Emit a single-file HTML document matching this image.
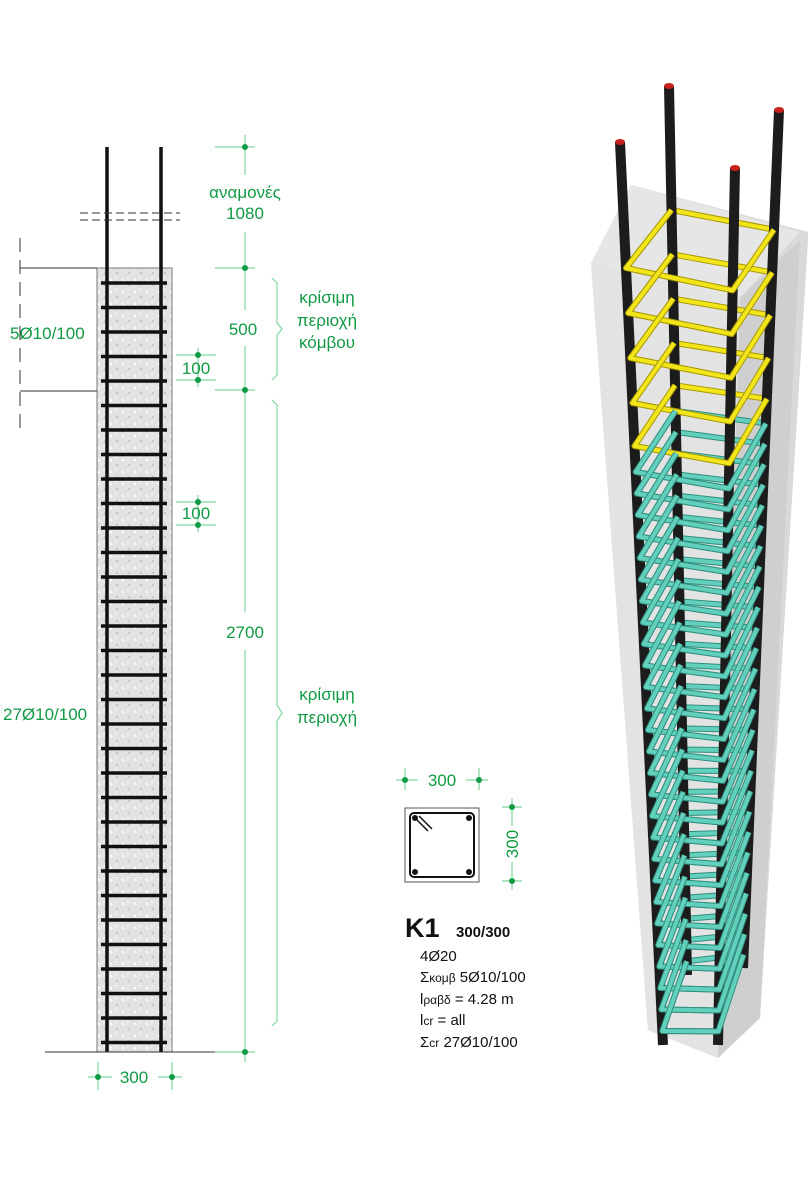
<!DOCTYPE html>
<html><head><meta charset="utf-8"><style>
html,body{margin:0;padding:0;background:#fff}
svg{display:block}
text{font-family:"Liberation Sans",sans-serif}
.g{fill:#119a44;font-size:17px}
.k{fill:#111;font-size:15px}
</style></head><body>
<svg id="s" width="808" height="1200" viewBox="0 0 808 1200" xmlns="http://www.w3.org/2000/svg">
<defs>
<pattern id="conc" width="12" height="12" patternUnits="userSpaceOnUse">
<rect width="12" height="12" fill="#e2e2e2"/>
<circle cx="3" cy="4" r="1.4" fill="#fafafa"/><circle cx="9" cy="9" r="1.1" fill="#c4c4c4"/><circle cx="8" cy="2" r="0.9" fill="#fff"/>
</pattern>
</defs>
<rect x="97" y="268" width="75" height="784" fill="url(#conc)" stroke="#777" stroke-width="1"/>
<g stroke="#111" stroke-width="3.5"><line x1="107" y1="147" x2="107" y2="1052"/><line x1="161" y1="147" x2="161" y2="1052"/></g>
<g stroke="#fff" stroke-width="10"><line x1="80" y1="216" x2="180" y2="216"/></g>
<g stroke="#111" stroke-width="3.5"><line x1="107" y1="210" x2="107" y2="222"/><line x1="161" y1="210" x2="161" y2="222"/></g>
<g stroke="#333" stroke-width="1" stroke-dasharray="8,4"><line x1="80" y1="213" x2="180" y2="213"/><line x1="80" y1="220" x2="180" y2="220"/></g>
<g id="stir" stroke="#111" stroke-width="3.5"></g>
<line x1="45" y1="1052" x2="220" y2="1052" stroke="#333" stroke-width="1"/>
<line x1="20" y1="238" x2="20" y2="435" stroke="#333" stroke-width="1" stroke-dasharray="14,8"/>
<g stroke="#333" stroke-width="1"><line x1="20" y1="268" x2="97" y2="268"/><line x1="20" y1="391" x2="97" y2="391"/></g>
<text class="g" x="10" y="339">5Ø10/100</text>
<text class="g" x="3" y="720">27Ø10/100</text>
<g stroke="#7fd6a0" stroke-width="1.2">
<line x1="245" y1="135" x2="245" y2="175"/><line x1="245" y1="232" x2="245" y2="310"/><line x1="245" y1="346" x2="245" y2="612"/><line x1="245" y1="650" x2="245" y2="1062"/>
<line x1="215" y1="147" x2="255" y2="147"/><line x1="215" y1="268" x2="255" y2="268"/><line x1="215" y1="390" x2="255" y2="390"/><line x1="215" y1="1052" x2="255" y2="1052"/>
<line x1="176" y1="355" x2="216" y2="355"/><line x1="176" y1="380" x2="216" y2="380"/><line x1="198" y1="348" x2="198" y2="387"/>
<line x1="176" y1="502" x2="216" y2="502"/><line x1="176" y1="525" x2="216" y2="525"/><line x1="198" y1="495" x2="198" y2="532"/>
<line x1="88" y1="1077" x2="112" y2="1077"/><line x1="158" y1="1077" x2="182" y2="1077"/><line x1="98" y1="1062" x2="98" y2="1090"/><line x1="172" y1="1062" x2="172" y2="1090"/>
<path d="M272 278 l5 5 v40 l5 6 l-5 6 v40 l-5 5 M272 400 l5 5 v300 l5 8 l-5 8 v300 l-5 5" fill="none"/>
<line x1="396" y1="780" x2="418" y2="780"/><line x1="466" y1="780" x2="488" y2="780"/><line x1="405" y1="768" x2="405" y2="790"/><line x1="479" y1="768" x2="479" y2="790"/>
<line x1="512" y1="798" x2="512" y2="826"/><line x1="512" y1="862" x2="512" y2="890"/><line x1="502" y1="807" x2="522" y2="807"/><line x1="502" y1="881" x2="522" y2="881"/>
</g>
<g fill="#119a44"><circle cx="245" cy="147" r="3"/><circle cx="245" cy="268" r="3"/><circle cx="245" cy="390" r="3"/><circle cx="245" cy="1052" r="3"/>
<circle cx="198" cy="355" r="3"/><circle cx="198" cy="380" r="3"/><circle cx="198" cy="502" r="3"/><circle cx="198" cy="525" r="3"/>
<circle cx="98" cy="1077" r="3"/><circle cx="172" cy="1077" r="3"/><circle cx="405" cy="780" r="3"/><circle cx="479" cy="780" r="3"/><circle cx="512" cy="807" r="3"/><circle cx="512" cy="881" r="3"/></g>
<text class="g" x="245" y="198" text-anchor="middle">αναμονές</text>
<text class="g" x="245" y="219" text-anchor="middle">1080</text>
<text class="g" x="243" y="335" text-anchor="middle">500</text>
<text class="g" x="245" y="638" text-anchor="middle">2700</text>
<text class="g" x="196" y="374" text-anchor="middle">100</text>
<text class="g" x="196" y="519" text-anchor="middle">100</text>
<text class="g" x="134" y="1083" text-anchor="middle">300</text>
<text class="g" x="327" y="303" text-anchor="middle">κρίσιμη</text>
<text class="g" x="327" y="326" text-anchor="middle">περιοχή</text>
<text class="g" x="327" y="348" text-anchor="middle">κόμβου</text>
<text class="g" x="327" y="700" text-anchor="middle">κρίσιμη</text>
<text class="g" x="327" y="723" text-anchor="middle">περιοχή</text>
<text class="g" x="442" y="786" text-anchor="middle">300</text>
<text class="g" transform="translate(518,844) rotate(-90)" text-anchor="middle">300</text>
<rect x="405" y="808" width="74" height="74" fill="#fff" stroke="#555" stroke-width="1"/>
<rect x="410" y="813" width="64" height="64" rx="4" fill="none" stroke="#111" stroke-width="2"/>
<g stroke="#111" stroke-width="1.5"><line x1="415" y1="818" x2="428" y2="831"/><line x1="419" y1="816" x2="432" y2="829"/></g>
<g fill="#111"><circle cx="415" cy="818" r="3"/><circle cx="469" cy="818" r="3"/><circle cx="415" cy="872" r="3"/><circle cx="469" cy="872" r="3"/></g>
<text x="405" y="937" style="font-size:27px;font-weight:bold" fill="#111">K1</text>
<text x="456" y="937" style="font-size:15px;font-weight:bold" fill="#111">300/300</text>
<text class="k" x="420" y="961">4Ø20</text>
<text class="k" x="420" y="982">Σ<tspan style="font-size:12px">κομβ</tspan> 5Ø10/100</text>
<text class="k" x="420" y="1004">l<tspan style="font-size:12px">ραβδ</tspan> = 4.28 m</text>
<text class="k" x="420" y="1025">l<tspan style="font-size:12px">cr</tspan> = all</text>
<text class="k" x="420" y="1047">Σ<tspan style="font-size:12px">cr</tspan> 27Ø10/100</text>
<polygon points="591,263 631,185 808,232 808,240 760,1018 718,1058 648,1030" fill="#d9d9d9"/>
<polygon points="591,263 740,298 718,1058 648,1030" fill="#e3e3e3"/>
<polygon points="740,298 800,240 760,1018 718,1058" fill="#cfcfcf"/>
<polygon points="591,263 631,185 800,232 740,298" fill="#e8e8e8" opacity="0.8"/>
<g id="d3"></g>
</svg>
<script>
var ns="http://www.w3.org/2000/svg";
var st=document.getElementById('stir');
for(var i=0;i<32;i++){var y=283+i*24.5;var l=document.createElementNS(ns,'line');l.setAttribute('x1',101);l.setAttribute('x2',167);l.setAttribute('y1',y);l.setAttribute('y2',y);st.appendChild(l);}
var bars={A:[620,142,663,1045],B:[669,86,687,975],C:[735,168,718,1045],D:[779,110,743,968]};
function pt(b,f){var q=bars[b];return [q[0]+(q[2]-q[0])*f,q[1]+(q[3]-q[1])*f];}
var g=document.getElementById('d3');
function el(t,a){var e=document.createElementNS(ns,t);for(var k in a)e.setAttribute(k,a[k]);g.appendChild(e);return e;}
var ys=[268,313,358,403,446];
for(var i=0;i<27;i++)ys.push(472+i*21.5);
var polys=[];
ys.forEach(function(y,i){var f=(y-142)/903;var a=pt('A',f),b=pt('B',f),c=pt('C',f),d=pt('D',f);
var col=i<5?'#f3e51c':'#62d0bd',dk=i<5?'#a89a00':'#2f8f7e';
polys.push([a,b,d,c,col,dk]);
el('polyline',{points:[c,a,b,d].join(' '),fill:'none',stroke:dk,'stroke-width':6,'stroke-linejoin':'round'});
el('polyline',{points:[c,a,b,d].join(' '),fill:'none',stroke:col,'stroke-width':4,'stroke-linejoin':'round'});
});
['B','D','A','C'].forEach(function(k){var q=bars[k];el('line',{x1:q[0],y1:q[1],x2:q[2],y2:q[3],stroke:'#1c1c1c','stroke-width':10});
el('ellipse',{cx:q[0],cy:q[1],rx:5,ry:3,fill:'#c8201c'});});
polys.forEach(function(p){
el('polyline',{points:[p[1],p[0],p[3],p[2]].join(' '),fill:'none',stroke:p[5],'stroke-width':6,'stroke-linejoin':'round'});
el('polyline',{points:[p[1],p[0],p[3],p[2]].join(' '),fill:'none',stroke:p[4],'stroke-width':4,'stroke-linejoin':'round'});});
</script>
</body></html>
